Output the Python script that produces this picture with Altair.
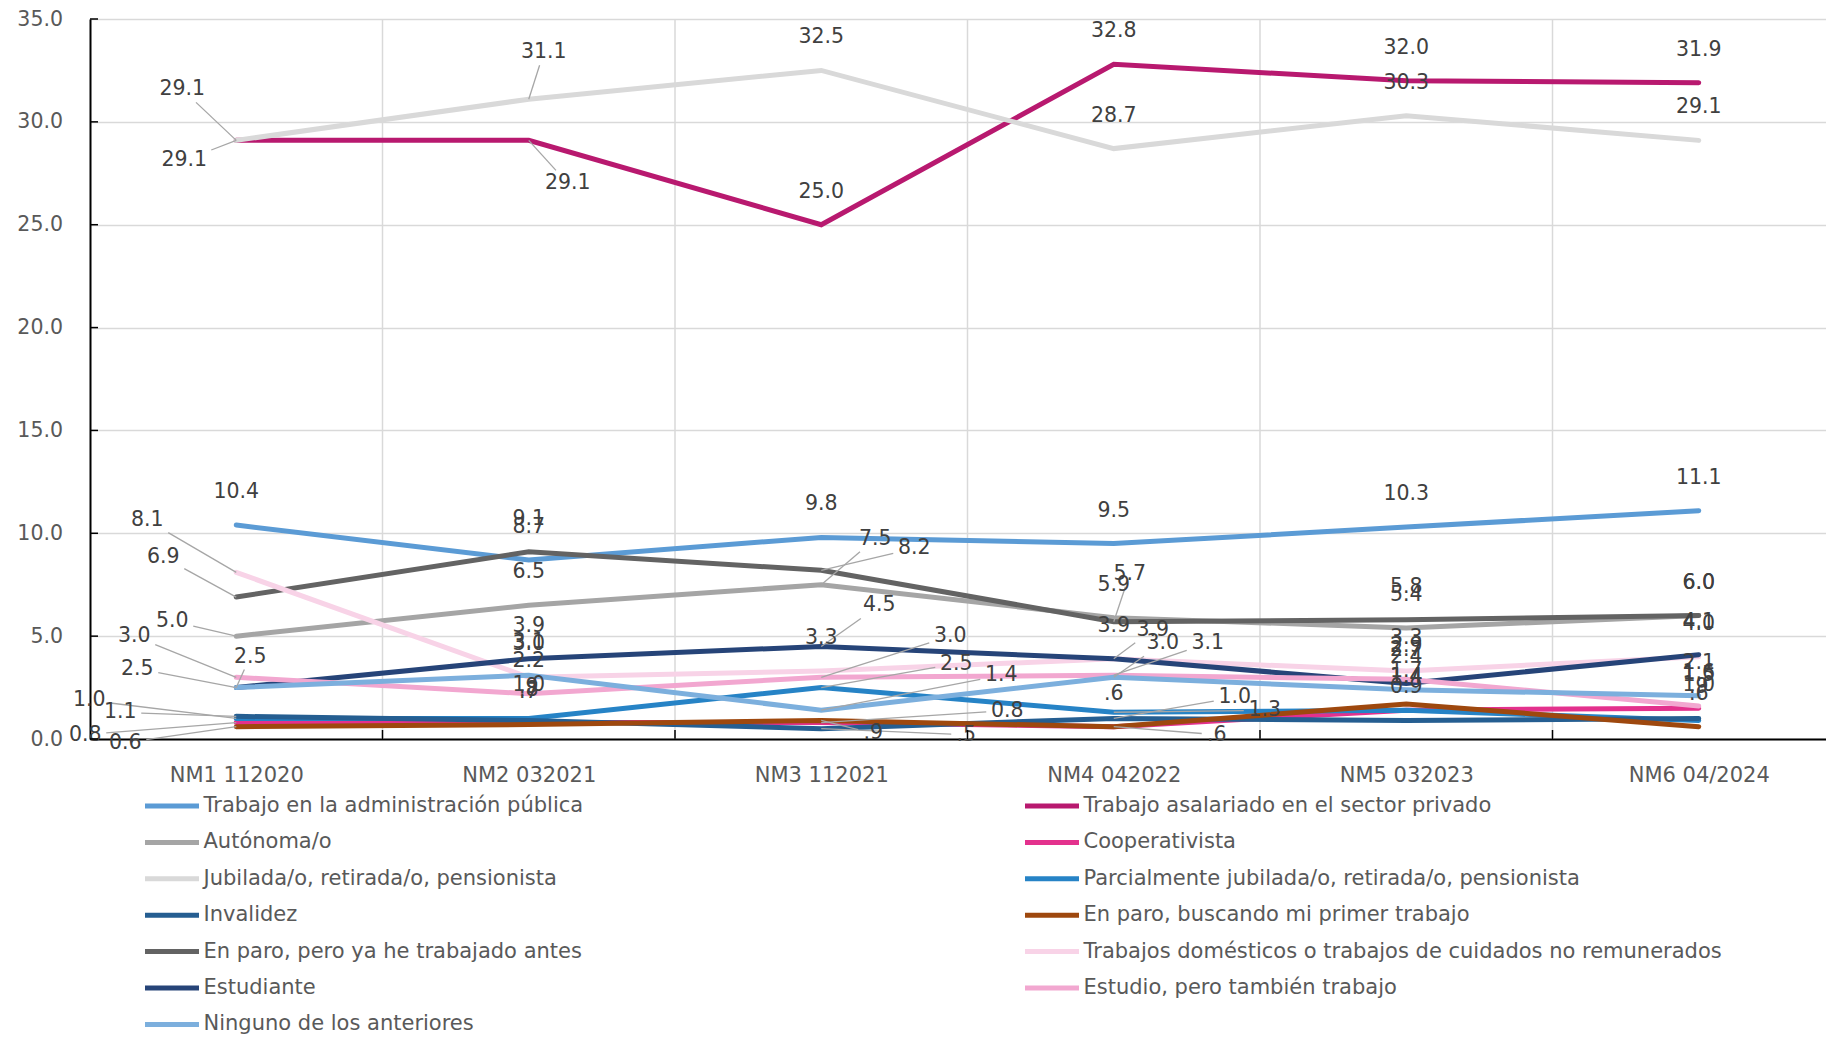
import math
import json
import altair as alt
import pandas as pd

# ---------------- data ----------------
periods = ["NM1 112020", "NM2 032021", "NM3 112021", "NM4 042022", "NM5 032023", "NM6 04/2024"]

series = [
    "Trabajo en la administración pública",
    "Trabajo asalariado en el sector privado",
    "Autónoma/o",
    "Cooperativista",
    "Jubilada/o, retirada/o, pensionista",
    "Parcialmente jubilada/o, retirada/o, pensionista",
    "Invalidez",
    "En paro, buscando mi primer trabajo",
    "En paro, pero ya he trabajado antes",
    "Trabajos domésticos o trabajos de cuidados no remunerados",
    "Estudiante",
    "Estudio, pero también trabajo",
    "Ninguno de los anteriores",
]

admin_publica = [10.4, 8.7, 9.8, 9.5, 10.3, 11.1]
sector_privado = [29.1, 29.1, 25.0, 32.8, 32.0, 31.9]
autonoma = [5.0, 6.5, 7.5, 5.9, 5.4, 6.0]
cooperativista = [0.8, 0.8, 0.8, 0.6, 1.4, 1.5]
jubilada = [29.1, 31.1, 32.5, 28.7, 30.3, 29.1]
parcialmente = [1.0, 1.0, 2.5, 1.3, 1.4, 0.9]
invalidez = [1.1, 0.9, 0.5, 1.0, 0.9, 1.0]
primer_trabajo = [0.6, 0.7, 0.9, 0.6, 1.7, 0.6]
paro_trabajado = [6.9, 9.1, 8.2, 5.7, 5.8, 6.0]
domesticos = [8.1, 3.0, 3.3, 3.9, 3.3, 4.0]
estudiante = [2.5, 3.9, 4.5, 3.9, 2.7, 4.1]
estudio_trabajo = [3.0, 2.2, 3.0, 3.1, 2.9, 1.6]
ninguno = [2.5, 3.1, 1.4, 3.0, 2.4, 2.1]

values = [admin_publica, sector_privado, autonoma, cooperativista, jubilada, parcialmente,
          invalidez, primer_trabajo, paro_trabajado, domesticos, estudiante, estudio_trabajo, ninguno]

y_ticks = [0, 5, 10, 15, 20, 25, 30, 35]

# ---------------- style ----------------
colors = ["#5B9BD5", "#B8196F", "#A5A5A5", "#E3318D", "#D9D9D9", "#2683C6", "#255E91",
          "#9E480E", "#636363", "#F8D3E7", "#264478", "#F2A7D0", "#7CAFDD"]
color_of = dict(zip(series, colors))

# legend is laid out column by column, so put the even entries in the first column
legend_order = series[0::2] + series[1::2]
legend_colors = [color_of[s] for s in legend_order]

ADM, PRI, AUT, COO, JUB, PAR, INV, PRM, PAT, DOM, EST, ESP, NIN = series
P1, P2, P3, P4, P5, P6 = periods

# label offsets (px) for labels that were moved away from the default "above" spot
label_offsets = {
    (JUB, P1): (-54, -51), (PRI, P1): (-52, 20), (DOM, P1): (-89, -52),
    (PAT, P1): (-73, -40), (AUT, P1): (-64, -15), (ESP, P1): (-102, -41),
    (NIN, P1): (-99, -19), (EST, P1): (14, -31), (PAR, P1): (-147, -18),
    (INV, P1): (-116, -4), (COO, P1): (-151, 12), (PRM, P1): (-111, 16),
    (JUB, P2): (15, -47), (PRI, P2): (39, 43),
    (AUT, P3): (54, -46), (PAT, P3): (93, -22), (EST, P3): (58, -41),
    (ESP, P3): (129, -41), (PAR, P3): (135, -24), (NIN, P3): (180, -35),
    (COO, P3): (186, -12), (PRM, P3): (52, 13), (INV, P3): (145, 6),
    (PAT, P4): (16, -48), (DOM, P4): (39, -29), (NIN, P4): (49, -34),
    (ESP, P4): (94, -32), (INV, P4): (121, -21), (PAR, P4): (151, -2),
    (PRM, P4): (103, 8),
}
no_leading_zero = {(PRM, P3), (INV, P3), (COO, P4), (PRM, P4), (PRM, P6),
                   (COO, P2), (PRM, P2), (INV, P2), (PAR, P6)}

FONT = "DejaVu Sans"
W, H = 1736, 720
X_RANGE = 1755
STEP = X_RANGE / len(periods)

rows = []
for s, vals in zip(series, values):
    for p, v in zip(periods, vals):
        txt = f"{v:.1f}"
        if (s, p) in no_leading_zero:
            txt = txt.lstrip("0")
        rows.append(dict(series=s, period=p, value=v, label=txt, key=f"{s}|{p}"))
df = pd.DataFrame(rows)
df_bounds = pd.DataFrame({"period": periods[1:]})
df_ticks = pd.DataFrame({"value": y_ticks})

X = alt.X(
    "period:N", sort=periods,
    scale=alt.Scale(type="point", domain=periods, range=[0, X_RANGE], padding=0.5),
    axis=alt.Axis(title=None, labelFont=FONT, labelFontSize=21, labelColor="#595959",
                  labelPadding=25, ticks=False, tickSize=0, grid=False, labelAngle=0,
                  domainColor="black", domainWidth=2),
)
Y = alt.Y(
    "value:Q", scale=alt.Scale(domain=[0, 35], nice=False, zero=True),
    axis=alt.Axis(title=None, values=y_ticks, format=".1f", labelFont=FONT, labelFontSize=20.5,
                  labelColor="#595959", labelPadding=27.5, ticks=False, tickSize=0,
                  domainColor="black", domainWidth=2, grid=True, gridColor="#D9D9D9",
                  gridWidth=1.5),
)

vgrid = alt.Chart(df_bounds).mark_rule(color="#D9D9D9", strokeWidth=1.5, xOffset=-STEP / 2).encode(
    x=X, y=alt.value(0), y2=alt.value(H))
xticks = alt.Chart(df_bounds).mark_rule(color="black", strokeWidth=1.5, xOffset=-STEP / 2).encode(
    x=X, y=alt.value(H - 9), y2=alt.value(H))
yticks = alt.Chart(df_ticks).mark_rule(color="black", strokeWidth=1.5).encode(
    y=Y, x=alt.value(0), x2=alt.value(8))

lines = alt.Chart(df).mark_line(strokeWidth=5, strokeCap="round").encode(
    x=X, y=Y,
    color=alt.Color(
        "series:N", sort=legend_order,
        scale=alt.Scale(domain=legend_order, range=legend_colors),
        legend=alt.Legend(
            title=None, orient="none", legendX=52.5, legendY=775, columns=2,
            columnPadding=439, rowPadding=12.4, symbolType="stroke", symbolSize=2916,
            symbolStrokeWidth=5, labelFont=FONT, labelFontSize=21, labelColor="#595959",
            labelLimit=1000, labelOffset=2, clipHeight=24, padding=0, gridAlign="each",
        ),
    ),
    detail="series:N",
)

moved_keys = [f"{s}|{p}" for (s, p) in label_offsets]
default_labels = alt.Chart(df).transform_filter(
    f"indexof({json.dumps(moved_keys, ensure_ascii=False)}, datum.key) < 0"
).mark_text(dy=-33, font=FONT, fontSize=20.5, color="#404040").encode(x=X, y=Y, text="label:N")

layers = [vgrid, lines]
label_layers = []
for (s, p), (dx, dy) in label_offsets.items():
    key = f"{s}|{p}"
    txt = df.loc[df.key == key, "label"].iloc[0]
    hw = len(txt) * 6.0
    hh = 10.0
    dist = math.hypot(dx, dy)
    if dist > 30:
        tx = (hw + 3) / abs(dx) if dx else 1e9
        ty = (hh + 3) / abs(dy) if dy else 1e9
        t = min(tx, ty)
        if t < 1:
            ex, ey = dx * (1 - t), dy * (1 - t)
            layers.append(
                alt.Chart(df).transform_filter(alt.datum.key == key)
                .mark_rule(color="#A6A6A6", strokeWidth=1.3, xOffset=ex, yOffset=ey)
                .encode(x=X, x2=alt.X2("period"), y=Y, y2=alt.Y2("value"))
            )
    label_layers.append(
        alt.Chart(df).transform_filter(alt.datum.key == key)
        .mark_text(dx=dx, dy=dy, font=FONT, fontSize=20.5, color="#404040")
        .encode(x=X, y=Y, text="label:N")
    )

layers += [default_labels] + label_layers + [xticks, yticks]

chart = alt.layer(*layers).properties(
    width=W, height=H,
    autosize=alt.AutoSizeParams(type="none"),
    padding={"left": 82, "top": 11, "right": 0, "bottom": 300},
).configure_view(stroke=None).configure(font=FONT)

chart.save("out.html", embed_options={"renderer": "svg", "actions": False})
